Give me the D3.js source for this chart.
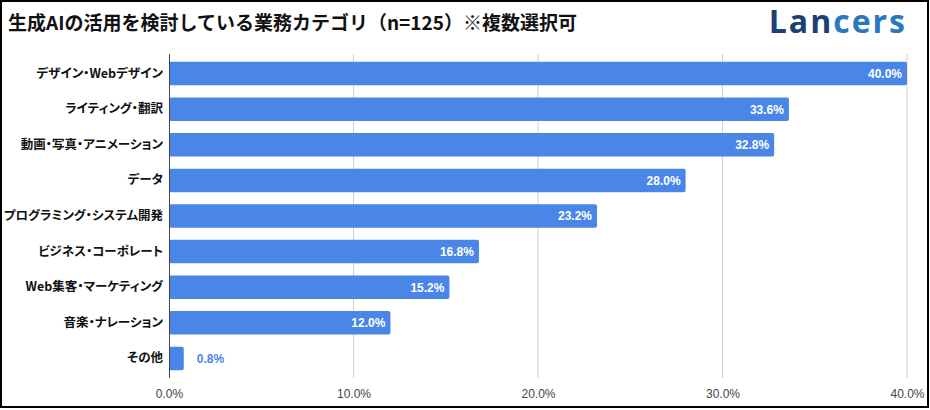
<!DOCTYPE html>
<html>
<head>
<meta charset="utf-8">
<script src="https://cdn.jsdelivr.net/npm/d3@7"></script>
<style>
  body { margin: 0; background: #fff; }
  svg { display: block; font-family: "Noto Sans CJK JP", "Noto Sans", sans-serif; }
  .jp { font-family: "Noto Sans CJK JP", sans-serif; font-feature-settings: "palt"; }
</style>
</head>
<body>
<svg></svg>
<script>
// Chart data
var categories = ["デザイン・Webデザイン", "ライティング・翻訳", "動画・写真・アニメーション", "データ",
  "プログラミング・システム開発", "ビジネス・コーポレート", "Web集客・マーケティング", "音楽・ナレーション", "その他"];
var values = [40.0, 33.6, 32.8, 28.0, 23.2, 16.8, 15.2, 12.0, 0.8];
var xTicks = [0, 10, 20, 30, 40];

var svgWidth = 930, svgHeight = 410;
var margin = {top: 54, right: 23, bottom: 32, left: 169};
var width = svgWidth - margin.left - margin.right;
var height = svgHeight - margin.top - margin.bottom;

var svg = d3.select("svg")
  .attr("width", svgWidth)
  .attr("height", svgHeight);

// outer frame
svg.append("rect")
  .attr("x", 1).attr("y", 1)
  .attr("width", svgWidth - 3).attr("height", svgHeight - 4)
  .attr("fill", "none").attr("stroke", "#000").attr("stroke-width", 2);

// title
svg.append("text")
  .attr("x", 8).attr("y", 30)
  .attr("font-family", "'Noto Sans CJK JP', sans-serif")
  .attr("font-size", 19).attr("font-weight", "bold").attr("fill", "#111")
  .text("生成AIの活用を検討している業務カテゴリ（n=125）※複数選択可");

// logo
var logo = svg.append("text")
  .attr("x", 907).attr("y", 33)
  .attr("text-anchor", "end")
  .attr("font-family", "'Open Sans', sans-serif")
  .attr("font-size", 32).attr("font-weight", 700)
  .attr("letter-spacing", 2);
logo.append("tspan").attr("fill", "#1c3f75").text("Lan");
logo.append("tspan").attr("fill", "#2a79be").text("cers");

var g = svg.append("g")
  .attr("transform", "translate(" + margin.left + "," + margin.top + ")");

var xScale = d3.scaleLinear().domain([0, 40]).range([0, width]);
var yScale = d3.scaleBand().domain(categories).range([0, height]).paddingInner(0.34).paddingOuter(0.22);

// grid lines
g.selectAll(".grid")
  .data(xTicks.slice(1))
  .enter().append("line")
  .attr("x1", function(d) { return xScale(d); })
  .attr("x2", function(d) { return xScale(d); })
  .attr("y1", 0).attr("y2", height)
  .attr("stroke", "#d0d0d0").attr("stroke-width", 1);

// x axis
var xAxis = d3.axisBottom(xScale)
  .tickValues(xTicks)
  .tickFormat(function(d) { return d.toFixed(1) + "%"; })
  .tickSize(0).tickPadding(11);
var xg = g.append("g").attr("transform", "translate(0," + height + ")").call(xAxis);
xg.select(".domain").remove();
xg.selectAll("text").attr("font-size", 12).attr("fill", "#444")
  .attr("font-family", "'Liberation Sans', Arial, sans-serif");

// bars
g.selectAll(".bar")
  .data(values)
  .enter().append("rect")
  .attr("x", 0)
  .attr("y", function(d, i) { return yScale(categories[i]); })
  .attr("width", function(d) { return xScale(d); })
  .attr("height", yScale.bandwidth())
  .attr("rx", 2)
  .attr("fill", "#4a86e8");

// y axis line
g.append("line")
  .attr("x1", 0.5).attr("x2", 0.5).attr("y1", 0).attr("y2", height)
  .attr("stroke", "#444").attr("stroke-width", 1);

// y labels
var yAxis = d3.axisLeft(yScale).tickSize(0).tickPadding(6);
var yg = g.append("g").call(yAxis);
yg.attr("font-family", null);
yg.select(".domain").remove();
yg.selectAll("text")
  .attr("class", "jp")
  .attr("font-size", 12.5).attr("font-weight", "bold").attr("fill", "#111");

// value labels
g.selectAll(".label")
  .data(values)
  .enter().append("text")
  .attr("x", function(d) { return d < 3 ? xScale(d) + 13 : xScale(d) - 5; })
  .attr("y", function(d, i) { return yScale(categories[i]) + yScale.bandwidth() / 2; })
  .attr("dy", "0.36em")
  .attr("text-anchor", function(d) { return d < 3 ? "start" : "end"; })
  .attr("font-family", "'Liberation Sans', Arial, sans-serif")
  .attr("font-size", 12).attr("font-weight", "bold")
  .attr("fill", function(d) { return d < 3 ? "#4a86e8" : "#fff"; })
  .text(function(d) { return d.toFixed(1) + "%"; });
</script>
</body>
</html>
